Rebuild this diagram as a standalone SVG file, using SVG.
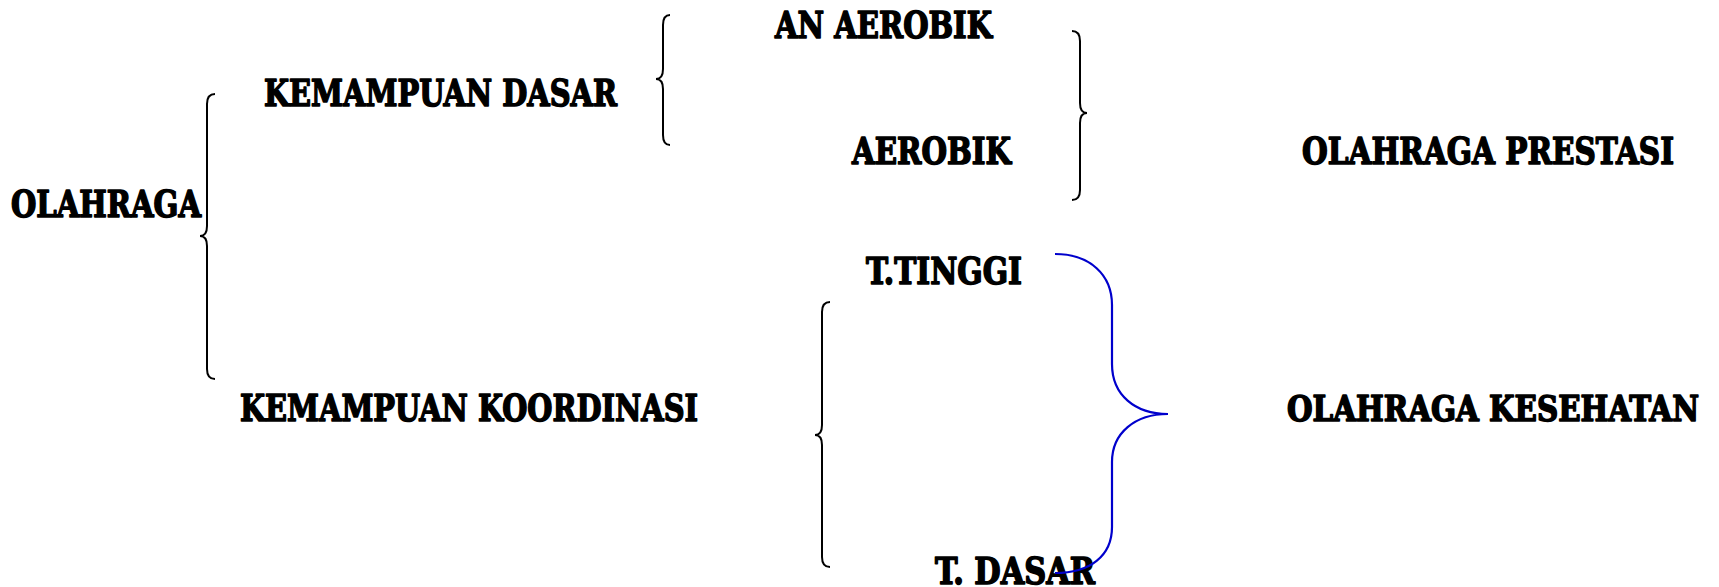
<svg xmlns="http://www.w3.org/2000/svg" width="1719" height="587" viewBox="0 0 1719 587">
<style>
  text { font-family: "DejaVu Serif Condensed", "DejaVu Serif", "Liberation Serif", serif; font-weight: bold; font-size: 37px; fill: #000; stroke: #000; stroke-width: 1.5px; stroke-linejoin: round; }
  .brace { fill: none; stroke: #000; stroke-width: 2px; }
  .blue { fill: none; stroke: #0000CC; stroke-width: 2.2px; }
</style>
<rect width="1719" height="587" fill="#fff"/>
<g id="n-olahraga"><text x="11" y="217" textLength="190" lengthAdjust="spacingAndGlyphs">OLAHRAGA</text></g>
<g id="n-kemampuan-dasar"><text x="264" y="106" textLength="353" lengthAdjust="spacingAndGlyphs">KEMAMPUAN DASAR</text></g>
<g id="n-an-aerobik"><text x="775" y="38" textLength="217" lengthAdjust="spacingAndGlyphs">AN AEROBIK</text></g>
<g id="n-aerobik"><text x="852" y="164" textLength="159" lengthAdjust="spacingAndGlyphs">AEROBIK</text></g>
<g id="n-olahraga-prestasi"><text x="1302" y="164" textLength="372" lengthAdjust="spacingAndGlyphs">OLAHRAGA PRESTASI</text></g>
<g id="n-t-tinggi"><text x="866" y="284" textLength="156" lengthAdjust="spacingAndGlyphs">T.TINGGI</text></g>
<g id="n-kemampuan-koordinasi"><text x="240" y="421" textLength="458" lengthAdjust="spacingAndGlyphs">KEMAMPUAN KOORDINASI</text></g>
<g id="n-olahraga-kesehatan"><text x="1287" y="421" font-size="35" textLength="412" lengthAdjust="spacingAndGlyphs" style="font-size:35px">OLAHRAGA KESEHATAN</text></g>
<g id="n-t-dasar"><text x="935" y="584" textLength="160" lengthAdjust="spacingAndGlyphs">T. DASAR</text></g>
<g id="connectors">
  <path class="brace" d="M215,94 Q207,94 207,104 L207,226 Q207,236 200,236 Q207,236 207,246 L207,369 Q207,379 215,379"/>
  <path class="brace" d="M670,15 Q663,15 663,25 L663,69 Q663,79 656,79 Q663,79 663,89 L663,135 Q663,145 670,145"/>
  <path class="brace" d="M1072,31 Q1080,31 1080,41 L1080,103 Q1080,113 1087,113 Q1080,113 1080,123 L1080,190 Q1080,200 1072,200"/>
  <path class="brace" d="M830,302 Q822,302 822,312 L822,425 Q822,435 815,435 Q822,435 822,445 L822,557 Q822,567 830,567"/>
  <path class="blue" d="M1055,254 C1090,254 1112,275 1112,305 L1112,364 C1112,395 1135,414 1168,414 C1135,414 1112,433 1112,462 L1112,527 C1112,556 1090,573 1055,573"/>
</g>
</svg>
